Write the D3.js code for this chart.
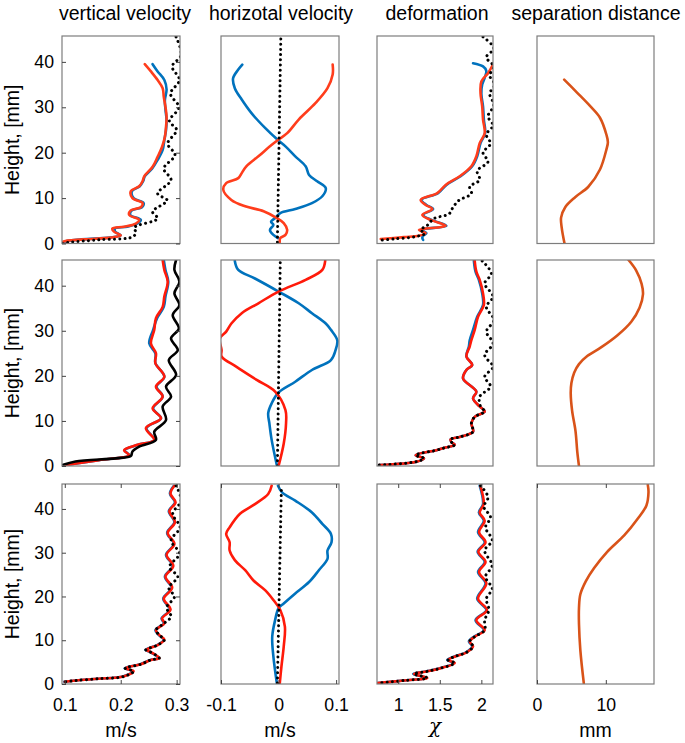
<!DOCTYPE html>
<html><head><meta charset="utf-8">
<script src="https://cdn.jsdelivr.net/npm/d3@7"></script>
<style>body{margin:0;background:#fff}svg{display:block}</style>
</head><body>
<svg id="c" width="685" height="743"></svg>
<script>
// ---------- labels & ticks ----------
const titles = ["vertical velocity", "horizotal velocity", "deformation", "separation distance"];
const yTickValues = [0, 10, 20, 30, 40];
const xTickValues = [[0.1, 0.2, 0.3], [-0.1, 0, 0.1], [1, 1.5, 2], [0, 10]];
const xLabels = ["m/s", "m/s", "\u03C7", "mm"];
const xDomains = [[0.095, 0.306], [-0.1, 0.105], [0.745, 2.14], [0, 17]];
const heightDomain = [0, 45.7];
const yLabel = "Height, [mm]";

// ---------- data: [height mm, value] ----------
// row 1
const vv1Blue = [[39.5,0.257],[37.9,0.266],[36,0.278],[33.9,0.282],[31.6,0.279],[29.5,0.280],[27.2,0.282],[25,0.281],[22.8,0.278],[20.6,0.275],[18.4,0.266],[16.5,0.256],[14.8,0.243],[13.7,0.240],[12.6,0.234],[11.5,0.220],[10,0.223],[8.9,0.241],[8,0.238],[7.3,0.220],[6.3,0.217],[5.2,0.236],[4.4,0.230],[3.7,0.212],[3.3,0.190],[2.6,0.190],[1.8,0.200],[1.3,0.180],[0.9,0.130],[0.4,0.100],[0,0.098]];
const vv1Red = [[39.5,0.243],[37.9,0.254],[36,0.266],[34.2,0.275],[32.3,0.277],[30.1,0.280],[27.9,0.282],[25.7,0.281],[23.5,0.279],[21.3,0.274],[19.1,0.266],[16.9,0.257],[14.8,0.242],[13.7,0.239],[12.6,0.233],[11.5,0.218],[10,0.221],[8.9,0.239],[8,0.236],[7.3,0.218],[6.3,0.215],[5.2,0.233],[4.4,0.227],[3.7,0.206],[3.3,0.185],[2.6,0.188],[1.8,0.200],[1.3,0.182],[0.9,0.133],[0.4,0.097],[0,0.095]];
const vv1Black = [[45.5,0.299],[41.5,0.308],[39,0.292],[36,0.305],[33,0.289],[30,0.304],[27,0.287],[25,0.300],[22,0.284],[19.5,0.297],[16.5,0.277],[14,0.290],[11,0.266],[9.5,0.283],[7,0.257],[5.5,0.266],[3.5,0.224],[2.5,0.227],[1.5,0.222],[0.8,0.160],[0.3,0.110],[0,0.095]];

const hv1Blue = [[39.4,-0.063],[38.3,-0.070],[36.4,-0.079],[34.2,-0.076],[31.7,-0.064],[28.7,-0.047],[25.4,-0.023],[23,-0.003],[21.4,0.012],[19.2,0.029],[17,0.047],[15.1,0.053],[13.7,0.067],[12.2,0.082],[10.4,0.076],[8.9,0.058],[7.6,0.029],[6.7,0.003],[5.6,-0.006],[4.8,-0.013],[4.1,-0.009],[3,-0.015],[1.9,-0.009],[1.2,-0.001]];
const hv1Red = [[39.4,0.094],[37.2,0.094],[34.2,0.085],[30.9,0.064],[27.3,0.035],[24.3,0.015],[22.9,0],[21.4,-0.015],[19.2,-0.035],[17,-0.056],[15.5,-0.064],[14.4,-0.070],[13.3,-0.091],[11.8,-0.096],[9.6,-0.082],[8.2,-0.058],[7.1,-0.026],[5.6,-0.003],[4.5,0.009],[3,0.015],[1.9,0.012],[1.2,0.003],[0.3,0.002]];
const hv1Black = [[0.3,-0.002],[45.5,0.004]];

const df1Blue = [[39.7,1.90],[39,2.02],[38,2.06],[36.5,2.04],[35,2.01],[33,2.00],[30.2,2.02],[27.3,2.03],[24.3,2.045],[22.1,1.99],[19.2,1.95],[17,1.89],[14.8,1.75],[12.9,1.58],[11.1,1.48],[9.6,1.28],[8.5,1.34],[7.6,1.42],[6.3,1.30],[5.2,1.40],[3.9,1.58],[3,1.28],[2.3,1.34],[1.7,1.30],[1.2,1.29],[0.8,1.30]];
const df1Red = [[39.4,2.14],[37.5,2.08],[35.7,2.00],[33.1,1.99],[30.2,2.01],[27.3,2.02],[24.3,2.04],[22.1,1.98],[19.2,1.94],[17,1.88],[14.8,1.74],[12.9,1.57],[11.1,1.47],[9.6,1.27],[8.5,1.33],[7.6,1.41],[6.3,1.29],[5.2,1.39],[3.9,1.57],[3,1.25],[2.3,1.33],[1.7,1.25],[1.4,1.07],[1,0.79]];
const df1Black = [[45.5,2.02],[43,2.15],[41,2.06],[39,2.15],[37,2.10],[35,2.16],[33,2.10],[30.5,2.15],[28,2.08],[26,2.14],[24,2.06],[22,2.11],[20,2.02],[18,2.08],[16,1.95],[14,1.98],[12.5,1.86],[11,1.88],[9.5,1.73],[8,1.66],[6.5,1.61],[5.5,1.43],[4,1.35],[3,1.27],[2.2,1.32],[1.5,1.20],[1,0.95],[0.7,0.78]];

const sd1 = [[36.1,3.95],[33.3,5.78],[30.3,7.7],[27.7,9.15],[23.9,10.1],[22.3,10.3],[20.8,10.1],[16.3,9.15],[12.5,7.46],[10.2,5.54],[8,4.1],[5.7,3.5],[3.4,3.6],[0,4.0]];

// row 2
const vv2Blue = [[45.7,0.277],[43.5,0.280],[40.9,0.285],[37.6,0.280],[35.3,0.277],[32.8,0.265],[30.2,0.258],[27.2,0.251],[25,0.262],[22.8,0.262],[19.8,0.278],[17.6,0.264],[15.4,0.275],[12.8,0.258],[10.6,0.272],[8.4,0.246],[5.8,0.260],[4.7,0.231],[3.5,0.207],[2.4,0.215],[1.3,0.161],[0.2,0.101]];
const vv2Red = [[45.7,0.275],[43.5,0.278],[40.9,0.284],[37.6,0.278],[35.3,0.275],[32.8,0.263],[30.2,0.260],[27.2,0.254],[25,0.263],[22.8,0.262],[19.8,0.278],[17.6,0.263],[15.4,0.275],[12.8,0.257],[10.6,0.272],[8.4,0.245],[5.8,0.260],[4.7,0.230],[3.5,0.206],[2.4,0.215],[1.3,0.161],[0.2,0.101]];
const vv2Black = [[45.7,0.299],[43.5,0.296],[40.9,0.305],[38.3,0.296],[35.7,0.305],[33.5,0.293],[30.5,0.304],[28.3,0.290],[25.7,0.302],[23.5,0.286],[20.2,0.299],[17.6,0.281],[15.4,0.290],[13.2,0.275],[10.2,0.281],[7.6,0.260],[5.8,0.263],[4.3,0.233],[3.2,0.221],[2.2,0.218],[1.7,0.191],[1,0.119],[0.2,0.096]];

const hv2Blue = [[45.5,-0.076],[43.5,-0.070],[41.6,-0.041],[38.7,0],[36.1,0.035],[33.9,0.058],[31.6,0.082],[30.2,0.091],[27.9,0.102],[25.7,0.099],[23.5,0.091],[21.3,0.058],[18.7,0.029],[16.3,0],[13.9,-0.012],[11.7,-0.018],[9.5,-0.016],[5.8,-0.012],[0.2,-0.003]];
const hv2Red = [[45.5,0.081],[43.5,0.076],[41.3,0.047],[38.7,0],[36.1,-0.035],[33.9,-0.064],[31.6,-0.082],[29.8,-0.091],[28.3,-0.102],[25.7,-0.099],[24.3,-0.099],[22,-0.073],[19.1,-0.038],[16.5,-0.006],[12.4,0.012],[9.5,0.013],[5,0.009],[0,0]];
const hv2Black = [[0,-0.002],[45.5,0.003]];

const df2Blue = [[45.5,1.91],[43.1,1.93],[41.3,1.97],[38.3,2.01],[35.7,2.02],[33.1,1.95],[30.2,1.90],[27.9,1.86],[26.5,1.85],[24.3,1.82],[22.4,1.89],[21.3,1.82],[19.4,1.78],[16.5,1.94],[15,1.90],[13.2,1.98],[12.1,2.04],[10.9,1.92],[9.5,1.88],[7.6,1.90],[6.5,1.75],[5.9,1.63],[5.3,1.64],[4.7,1.68],[4,1.55],[3.5,1.46],[2.4,1.21],[1.7,1.31],[1,1.23],[0.2,0.77]];
const df2Red = [[45.5,1.92],[43.1,1.94],[41.3,1.98],[38.3,2.02],[35.7,2.03],[33.1,1.96],[30.2,1.92],[27.9,1.88],[26.5,1.86],[24.3,1.82],[22.4,1.89],[21.3,1.82],[19.4,1.78],[16.5,1.94],[15,1.90],[13.2,1.98],[12.1,2.04],[10.9,1.92],[9.5,1.88],[7.6,1.90],[6.5,1.75],[5.9,1.63],[5.3,1.64],[4.7,1.68],[4,1.55],[3.5,1.46],[2.4,1.21],[1.7,1.31],[1,1.23],[0.2,0.77]];
const df2Black = [[45.5,2.01],[42.7,2.12],[40.5,2.04],[37.6,2.14],[35.3,2.06],[32.4,2.15],[29.8,2.06],[27.2,2.14],[24.6,2.04],[22,2.14],[19.8,2.04],[17.6,2.11],[15.4,1.98],[13.2,1.99],[12.1,2.04],[10.9,1.92],[9.5,1.88],[7.6,1.90],[6.5,1.75],[5.9,1.63],[5.3,1.64],[4.7,1.68],[4,1.55],[3.5,1.46],[2.4,1.21],[1.7,1.31],[1,1.23],[0.2,0.77]];

const sd2 = [[45.7,13.3],[43.4,14.4],[40.4,15.2],[38.1,15.4],[35.1,14.9],[32,13.7],[29,11.7],[26.3,9.3],[24.4,7.3],[22.6,6.1],[20.7,5.4],[18.4,5.0],[16.1,4.9],[12.3,5.1],[7.7,5.6],[3.2,5.85],[0,6.1]];

// row 3
const vv3Blue = [[45.3,0.295],[43.5,0.288],[41.5,0.297],[39.5,0.286],[37,0.296],[34.5,0.283],[32,0.295],[29.5,0.281],[27,0.293],[24.5,0.279],[22,0.291],[19.5,0.276],[17,0.288],[15,0.273],[13.9,0.277],[12.3,0.262],[11.2,0.268],[10.1,0.277],[8.9,0.265],[7.8,0.244],[7.4,0.251],[5.9,0.268],[5.5,0.253],[4.5,0.235],[3.6,0.207],[2.9,0.222],[1.7,0.204],[1.2,0.16],[0.8,0.12],[0.5,0.099]];
const vv3Red = [[45.3,0.296],[43.5,0.289],[41.5,0.298],[39.5,0.287],[37,0.297],[34.5,0.284],[32,0.296],[29.5,0.282],[27,0.294],[24.5,0.280],[22,0.292],[19.5,0.277],[17,0.289],[15,0.274],[13.9,0.278],[12.3,0.263],[11.2,0.269],[10.1,0.278],[8.9,0.266],[7.8,0.245],[7.4,0.252],[5.9,0.269],[5.5,0.254],[4.5,0.236],[3.6,0.208],[2.9,0.223],[1.7,0.205],[1.2,0.16],[0.8,0.12],[0.5,0.10]];
const vv3Black = [[45.3,0.299],[41.9,0.308],[38.9,0.293],[35.8,0.306],[32.8,0.290],[29.8,0.305],[26.7,0.287],[24.5,0.302],[22,0.286],[19.9,0.296],[17.5,0.282],[15.4,0.290],[13.9,0.278],[12.3,0.263],[11.2,0.269],[10.1,0.278],[8.9,0.266],[7.8,0.245],[7.4,0.252],[5.9,0.269],[5.5,0.254],[4.5,0.236],[3.6,0.208],[2.9,0.223],[1.7,0.205],[1.2,0.16],[0.8,0.12],[0.5,0.10]];

const hv3Blue = [[45.3,-0.001],[43.8,0.006],[41.9,0.029],[39.2,0.058],[36.6,0.076],[34.3,0.091],[32.4,0.092],[30.5,0.085],[28.6,0.085],[26,0.070],[23.3,0.053],[20.7,0.029],[18.4,0.009],[17.3,0],[14.6,-0.006],[10.8,-0.011],[6.3,-0.009],[0.2,-0.003]];
const hv3Red = [[45.3,-0.012],[43.4,-0.018],[41.1,-0.041],[38.9,-0.067],[35.8,-0.085],[34.3,-0.091],[32.4,-0.085],[30.5,-0.085],[28.3,-0.076],[26,-0.058],[23.7,-0.044],[21.4,-0.023],[19.2,-0.009],[16.9,0.003],[13.1,0.011],[8.6,0.009],[4,0.005],[0,0.002]];
const hv3Black = [[0.2,-0.002],[45.3,0.005]];

const df3Blue = [[45.3,1.98],[41.1,2.02],[39.2,1.97],[37.3,2.03],[34.7,1.96],[32.4,2.04],[30.2,1.955],[27.9,2.04],[25.6,1.96],[23,2.05],[19.5,1.95],[16.9,2.06],[14.6,1.93],[12.3,2.03],[10.8,1.91],[9.7,1.85],[8.6,1.89],[7.2,1.81],[6.4,1.69],[5.5,1.59],[4.8,1.67],[3.6,1.50],[2.9,1.34],[2.3,1.18],[1.4,1.34],[0.8,1.06],[0.2,0.75]];
const df3Red = [[45.3,1.988],[41.1,2.028],[39.2,1.98],[37.3,2.04],[34.7,1.972],[32.4,2.05],[30.2,1.964],[27.9,2.05],[25.6,1.972],[23,2.06],[19.5,1.96],[16.9,2.067],[14.6,1.94],[12.3,2.04],[10.8,1.92],[9.7,1.86],[8.6,1.90],[7.2,1.82],[6.4,1.70],[5.5,1.60],[4.8,1.68],[3.6,1.51],[2.9,1.35],[2.3,1.19],[1.4,1.35],[0.8,1.07],[0.2,0.75]];
const df3Black = [[45.3,1.99],[42.7,2.08],[40.5,2.03],[38.1,2.11],[35.8,2.05],[32.8,2.13],[30.5,2.04],[27.1,2.13],[24.5,2.05],[21.8,2.13],[19.5,2.06],[16.9,2.09],[14.6,2.04],[12.3,2.04],[10.8,1.92],[9.7,1.86],[8.6,1.90],[7.2,1.82],[6.4,1.70],[5.5,1.60],[4.8,1.68],[3.6,1.51],[2.9,1.35],[2.3,1.19],[1.4,1.35],[0.8,1.07],[0.2,0.75]];

const sd3 = [[45.5,16.1],[43.8,16.2],[40.8,15.9],[37.7,14.6],[34,12.7],[30.2,10.2],[26.5,8.3],[23.5,7.1],[20.5,6.3],[17.4,6.1],[13.7,6.1],[7.7,6.3],[0.2,6.8]];

// ---------- styles ----------
const BLUE = "#0072BD", RED1 = "#FF3D1C", RED = "#FF1A0A", ORANGE = "#D95319", BLACK = "#000";

const panels = [
  [
    [{d: vv1Blue, c: BLUE}, {d: vv1Red, c: RED1}, {d: vv1Black, c: BLACK, dot: true}],
    [{d: hv1Blue, c: BLUE}, {d: hv1Red, c: RED1}, {d: hv1Black, c: BLACK, dot: true}],
    [{d: df1Blue, c: BLUE}, {d: df1Red, c: RED1}, {d: df1Black, c: BLACK, dot: true}],
    [{d: sd1, c: ORANGE}]
  ],
  [
    [{d: vv2Blue, c: BLUE}, {d: vv2Red, c: RED}, {d: vv2Black, c: BLACK}],
    [{d: hv2Blue, c: BLUE}, {d: hv2Red, c: RED}, {d: hv2Black, c: BLACK, dot: true}],
    [{d: df2Blue, c: BLUE}, {d: df2Red, c: RED}, {d: df2Black, c: BLACK, dot: true}],
    [{d: sd2, c: ORANGE}]
  ],
  [
    [{d: vv3Blue, c: BLUE}, {d: vv3Red, c: RED}, {d: vv3Black, c: BLACK, dot: true}],
    [{d: hv3Blue, c: BLUE}, {d: hv3Red, c: RED}, {d: hv3Black, c: BLACK, dot: true}],
    [{d: df3Blue, c: BLUE}, {d: df3Red, c: RED}, {d: df3Black, c: BLACK, dot: true}],
    [{d: sd3, c: ORANGE}]
  ]
];

// ---------- layout ----------
const colX = [[62, 180], [221, 339], [377, 493], [537, 654]];
const rowY = [[36, 243.5], [260, 466], [484, 684]];
const FONT = "'Liberation Sans', Arial, Helvetica, sans-serif";
const FRAME = "#7d7d7d";

const svg = d3.select("#c");
const defs = svg.append("defs");

// titles
const titleX = [125, 281, 437, 596];
titles.forEach((t, i) => {
  svg.append("text").attr("x", titleX[i]).attr("y", 20)
    .attr("text-anchor", "middle").attr("font-family", FONT).attr("font-size", 19.5)
    .attr("fill", "#000").text(t);
});

panels.forEach((row, r) => {
  row.forEach((series, c) => {
    const x = d3.scaleLinear().domain(xDomains[c]).range(colX[c]);
    const y = d3.scaleLinear().domain(heightDomain).range([rowY[r][1], rowY[r][0]]);
    const g = svg.append("g");
    const id = `clip${r}${c}`;
    defs.append("clipPath").attr("id", id).append("rect")
      .attr("x", colX[c][0]).attr("y", rowY[r][0])
      .attr("width", colX[c][1] - colX[c][0]).attr("height", rowY[r][1] - rowY[r][0]);

    const line = d3.line().x(p => x(p[1])).y(p => y(p[0])).curve(d3.curveCatmullRom.alpha(0.5));
    const lg = g.append("g").attr("clip-path", `url(#${id})`);
    series.forEach(s => {
      const p = lg.append("path").attr("d", line(s.d)).attr("fill", "none")
        .attr("stroke", s.c).attr("stroke-linejoin", "round");
      if (s.dot) {
        p.attr("stroke-width", 3).attr("stroke-dasharray", "0.01,5.2").attr("stroke-linecap", "round");
      } else {
        p.attr("stroke-width", 2.6).attr("stroke-linecap", "round");
      }
    });

    // frame
    g.append("rect").attr("x", colX[c][0]).attr("y", rowY[r][0])
      .attr("width", colX[c][1] - colX[c][0]).attr("height", rowY[r][1] - rowY[r][0])
      .attr("fill", "none").attr("stroke", FRAME).attr("stroke-width", 1.2);

    // y axes (first column only)
    if (c === 0) {
      const ya = g.append("g").attr("transform", `translate(${colX[c][0]},0)`)
        .call(d3.axisLeft(y).tickValues(yTickValues).tickSize(-4).tickPadding(8).tickFormat(d3.format("d")));
      ya.select(".domain").remove();
      ya.selectAll("line").attr("stroke", "#444");
      ya.selectAll("text").attr("font-family", FONT).attr("font-size", 17.7).attr("fill", "#000");
      const yr = g.append("g").attr("transform", `translate(${colX[c][1]},0)`)
        .call(d3.axisRight(y).tickValues(yTickValues).tickSize(-4).tickFormat(""));
      yr.select(".domain").remove();
      yr.selectAll("line").attr("stroke", "#444");
      // y label
      const cy = (rowY[r][0] + rowY[r][1]) / 2;
      g.append("text").attr("transform", `translate(19,${cy}) rotate(-90)`)
        .attr("text-anchor", "middle").attr("font-family", FONT).attr("font-size", 19.5)
        .attr("fill", "#000").text(yLabel);
    }
    // x axes (bottom row only)
    if (r === 2) {
      const xa = g.append("g").attr("transform", `translate(0,${rowY[r][1]})`)
        .call(d3.axisBottom(x).tickValues(xTickValues[c]).tickSize(-4).tickPadding(14).tickFormat(d => String(d)));
      xa.select(".domain").remove();
      xa.selectAll("line").attr("stroke", "#444");
      xa.selectAll("text").attr("font-family", FONT).attr("font-size", 17.7).attr("fill", "#000");
      const xt = g.append("g").attr("transform", `translate(0,${rowY[r][0]})`)
        .call(d3.axisTop(x).tickValues(xTickValues[c]).tickSize(-4).tickFormat(""));
      xt.select(".domain").remove();
      xt.selectAll("line").attr("stroke", "#444");
      const lx = (colX[c][0] + colX[c][1]) / 2;
      const lt = g.append("text").attr("x", lx).attr("y", 737).attr("text-anchor", "middle")
        .attr("fill", "#000").text(xLabels[c]);
      if (c === 2) {
        lt.attr("font-family", "'DejaVu Serif', 'Liberation Serif', serif").attr("font-style", "italic").attr("font-size", 20).attr("y", 733);
      } else {
        lt.attr("font-family", FONT).attr("font-size", 19.5);
      }
    }
  });
});
</script>
</body></html>
